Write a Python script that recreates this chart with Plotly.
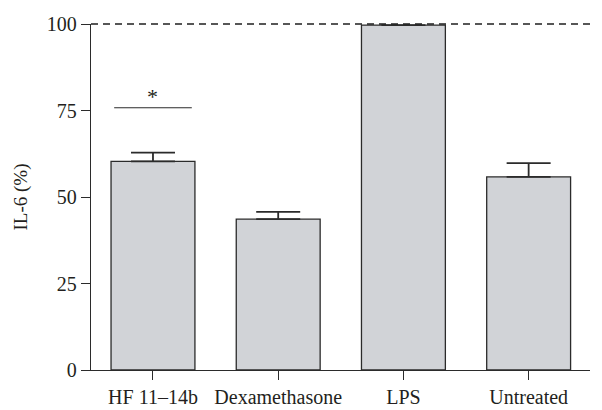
import plotly.graph_objects as go

categories = ["HF 11\u201314b", "Dexamethasone", "LPS", "Untreated"]
il6_percent = [60.3, 43.6, 99.7, 55.8]
il6_sem = [2.5, 2.1, 0.0, 4.0]
y_ticks = [0, 25, 50, 75, 100]
sig_label = "*"
sig_level = 75.8
reference_level = 100

FONT = "Liberation Serif"
DARK = "#2b2b2b"
TEXT = "#231f20"

# page has an 8px body margin, so the figure is sized/placed to compensate
L, R, T, B = 83, 12, 16, 40
W, H = 594, 402
plot_w = W - L - R

fig = go.Figure()
fig.add_trace(go.Bar(
    x=list(range(len(categories))),
    y=il6_percent,
    width=0.67,
    marker=dict(color="#d1d3d7", line=dict(color=DARK, width=1.3)),
    error_y=dict(type="data", array=il6_sem, arrayminus=[0]*len(il6_sem),
                 symmetric=False, color=DARK, thickness=1.8, width=22,
                 visible=True),
    showlegend=False,
))

# significance bar over HF 11-14b
fig.add_shape(type="line", xref="x", yref="y", x0=-0.31, x1=0.31,
              y0=sig_level, y1=sig_level, line=dict(color=DARK, width=1.2))
fig.add_annotation(x=0, y=sig_level, xref="x", yref="y", text=sig_label,
                   showarrow=False, yanchor="bottom", yshift=-3,
                   font=dict(family=FONT, size=22, color=TEXT))

# dashed 100% reference line
fig.add_shape(type="line", xref="paper", yref="paper", x0=0, x1=1, y0=1, y1=1,
              line=dict(color="#1f1f1f", width=1.3, dash="7px,5px"))

# y-axis title
fig.add_annotation(xref="paper", yref="paper", x=(12.5 - L) / plot_w, y=0.5,
                   text="IL-6 (%)", textangle=-90, showarrow=False,
                   xanchor="center", yanchor="middle",
                   font=dict(family=FONT, size=19, color=TEXT))

fig.update_layout(
    width=W, height=H,
    margin=dict(l=L, r=R, t=T, b=B),
    plot_bgcolor="white", paper_bgcolor="white",
    font=dict(family=FONT, size=20, color=TEXT),
    xaxis=dict(range=[-0.495, 3.49], tickmode="array",
               tickvals=list(range(len(categories))), ticktext=categories,
               showline=True, linecolor=DARK, linewidth=1.3,
               ticks="outside", ticklen=9, tickcolor=DARK, tickwidth=1.3,
               showgrid=False, zeroline=False, automargin=False,
               tickfont=dict(family=FONT, size=20, color=TEXT)),
    yaxis=dict(range=[0, reference_level], tickvals=y_ticks,
               showline=True, linecolor=DARK, linewidth=1.3,
               ticks="outside", ticklen=9, tickcolor=DARK, tickwidth=1.3,
               showgrid=False, zeroline=False, automargin=False,
               tickfont=dict(family=FONT, size=20, color=TEXT)),
)

fig.write_html("out.html")
